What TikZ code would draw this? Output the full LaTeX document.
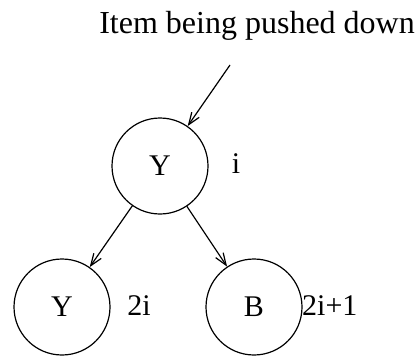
\documentclass[tikz,border=0pt]{standalone}
\usepackage{fontspec}
\setmainfont{Liberation Serif}
\usetikzlibrary{arrows.meta}
\begin{document}
\begin{tikzpicture}[x=1pt,y=-1pt,
  heapnode/.style={draw,circle,minimum size=96pt,inner sep=0pt,line width=1.2pt,font=\fontsize{30}{36}\selectfont},
  lbl/.style={inner sep=0pt,font=\fontsize{30}{36}\selectfont},
  arr/.style={line width=1.2pt,-{Straight Barb[length=12pt,width=9pt,line width=1.2pt]}}]
\useasboundingbox (0,0) rectangle (420,356);
\node[lbl,anchor=base east,font=\fontsize{32}{38}\selectfont] (title) at (415,33) {Item being pushed down};
\node[heapnode] (top) at (160,166) {Y};
\node[heapnode] (left) at (62,307) {Y};
\node[heapnode] (right) at (254,307) {B};
\node[lbl,anchor=base] (li) at (236,173) {i};
\node[lbl,anchor=base] (l2i) at (139,315) {2i};
\node[lbl,anchor=base west] (l2i1) at (302,315) {2i+1};
\coordinate (s) at (230,65);
\draw[arr] (s) -- (top);
\draw[arr] (top) -- (left);
\draw[arr] (top) -- (right);
\end{tikzpicture}
\end{document}
